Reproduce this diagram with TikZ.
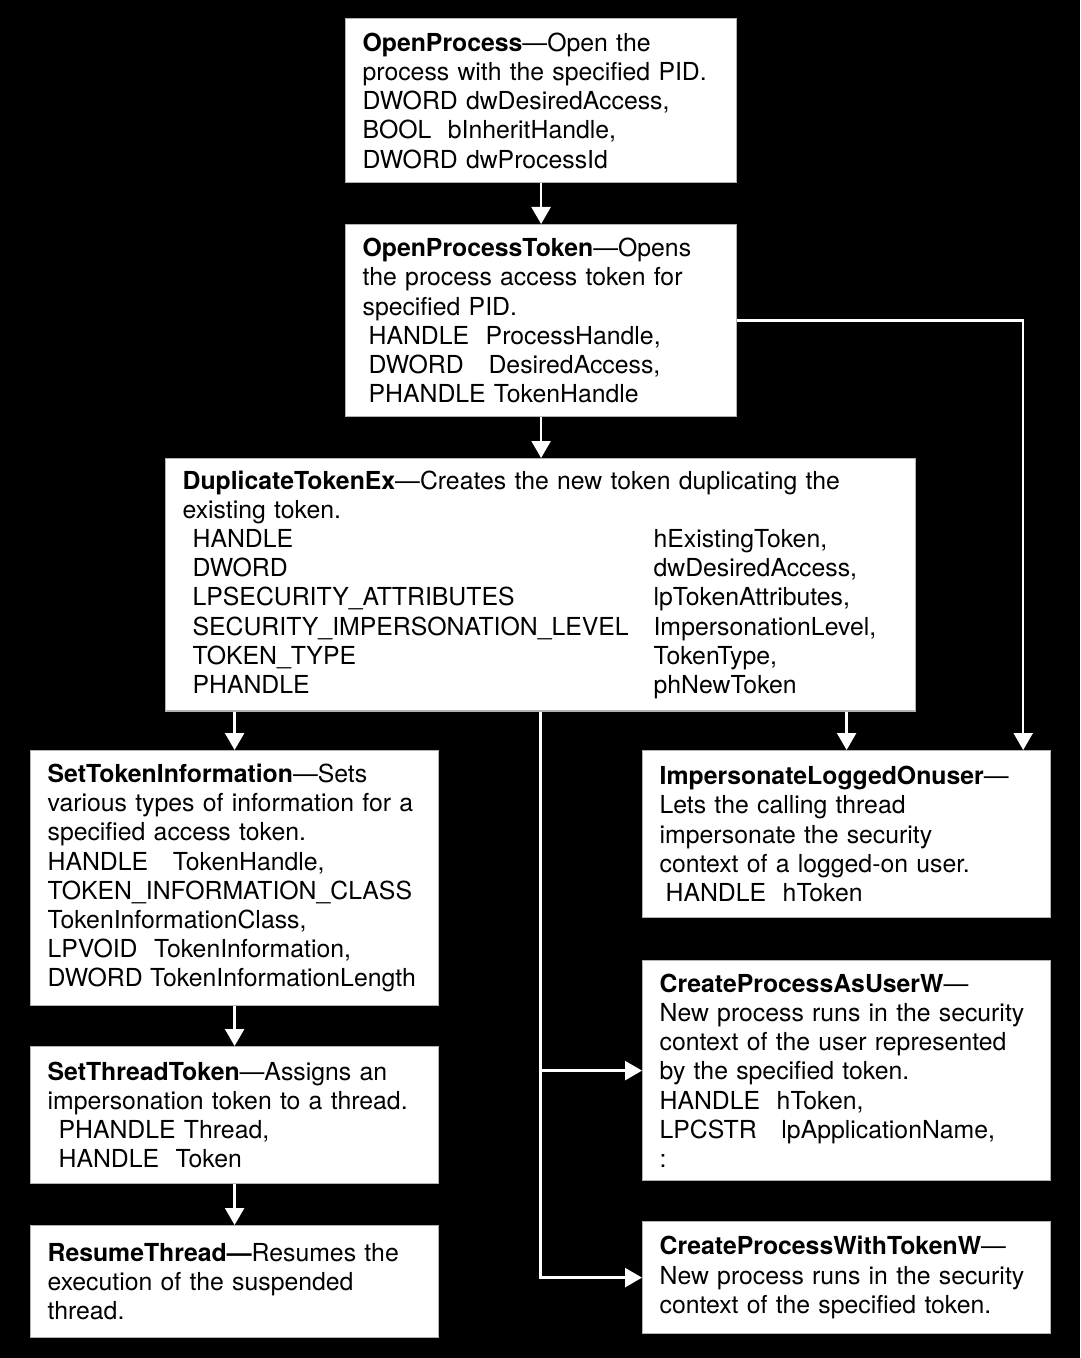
\documentclass[tikz,border=0pt]{standalone}
\usepackage{fontspec}
\setmainfont{TeX Gyre Heros}
\usepackage{tikz}
\usetikzlibrary{arrows.meta,positioning}

% one parameter row of DuplicateTokenEx
\newcommand{\argrow}[2]{\hspace*{5pt}\makebox[230.5pt][l]{#1}#2}

\begin{document}
\begin{tikzpicture}[x=0.5pt, y=-0.5pt,
  box/.style={draw=black!30, fill=white, line width=0.6pt, anchor=north west,
              align=left, inner xsep=8.5pt, inner ysep=6pt,
              font=\fontsize{12.4}{14.6}\selectfont},
  mid/.style={box, text width=178.5pt},
  side/.style={box, text width=187pt},
  wide/.style={box, text width=358pt},
  fl/.style={draw=white, line width=1.2pt, -{Triangle[length=8.5pt, width=9.5pt]}}]
\fill[black] (0,0) rectangle (1080,1358);
\useasboundingbox (0,0) rectangle (1080,1358);

\node[mid, minimum height=82pt] (op) at (345,18)
  {\textbf{OpenProcess}---Open the\\ process with the specified PID.\\ DWORD dwDesiredAccess,\\ BOOL\ \ bInheritHandle,\\ DWORD dwProcessId};
\node[mid, minimum height=96pt] (opt) at (345,224)
  {\textbf{OpenProcessToken}---Opens\\ the process access token for\\ specified PID.\\
   \hspace*{3pt}HANDLE\ \ ProcessHandle,\\ \hspace*{3pt}DWORD\ \ \ DesiredAccess,\\ \hspace*{3pt}PHANDLE TokenHandle};
\node[wide, minimum height=125pt] (dup) at (165,458)
  {\textbf{DuplicateTokenEx}---Creates the new token duplicating the\\ existing token.\\
   \argrow{HANDLE}{hExistingToken,}\\
   \argrow{DWORD}{dwDesiredAccess,}\\
   \argrow{LPSECURITY\_ATTRIBUTES}{lpTokenAttributes,}\\
   \argrow{SECURITY\_IMPERSONATION\_LEVEL}{ImpersonationLevel,}\\
   \argrow{TOKEN\_TYPE}{TokenType,}\\
   \argrow{PHANDLE}{phNewToken}};

\node[side, minimum height=127.5pt] (sti) at (30,750)
  {\textbf{SetTokenInformation}---Sets\\ various types of information for a\\ specified access token.\\
   HANDLE\ \ \ TokenHandle,\\ TOKEN\_INFORMATION\_CLASS\\ TokenInformationClass,\\
   LPVOID\ \ TokenInformation,\\ DWORD\hspace{0.3em}TokenInformationLength};
\node[side, minimum height=68.5pt] (stt) at (30,1046)
  {\textbf{SetThreadToken}---Assigns an\\ impersonation token to a thread.\\
   \hspace*{5.5pt}PHANDLE Thread,\\ \hspace*{5.5pt}HANDLE\ \ Token};
\node[side, minimum height=56pt] (rt) at (30,1225)
  {\textbf{ResumeThread---}Resumes the\\ execution of the suspended\\ thread.};

\node[side, minimum height=83.5pt] (ilu) at (642,750)
  {\textbf{ImpersonateLoggedOnuser}---\\ Lets the calling thread\\ impersonate the security\\
   context of a logged-on user.\\ \hspace*{3pt}HANDLE\ \ hToken};
\node[side, minimum height=110pt] (cpu) at (642,960)
  {\textbf{CreateProcessAsUserW}---\\ New process runs in the security\\ context of the user represented\\
   by the specified token.\\ HANDLE\ \ hToken,\\ LPCSTR\ \ \ lpApplicationName,\\ :};
\node[side, minimum height=56pt] (cpt) at (642,1221)
  {\textbf{CreateProcessWithTokenW}---\\ New process runs in the security\\ context of the specified token.};

\draw[fl] (op.south) -- (opt.north);
\draw[fl] (opt.south) -- (opt.south |- dup.north);
\draw[fl] (opt.east) -| ([xshift=-14pt]ilu.north east);
\draw[fl] (dup.south -| sti.north) -- (sti.north);
\draw[fl] (dup.south -| ilu.north) -- (ilu.north);
\draw[fl] (dup.south) |- (cpu.west);
\draw[fl] (dup.south) |- (cpt.west);
\foreach \a/\b in {sti/stt, stt/rt} \draw[fl] (\a) -- (\b);
\end{tikzpicture}
\end{document}
